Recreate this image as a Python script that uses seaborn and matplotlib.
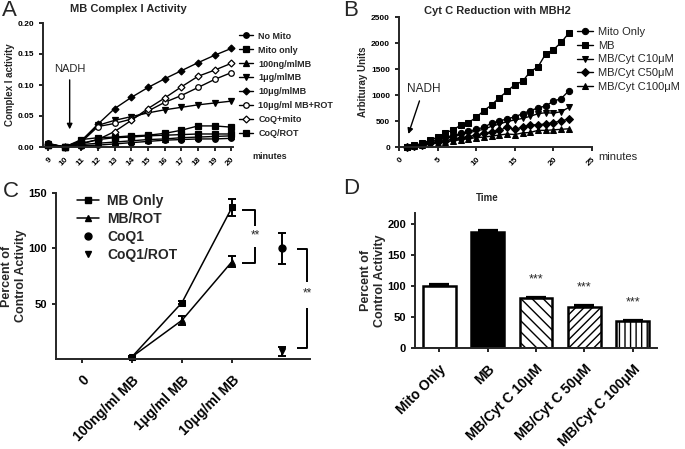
import seaborn as sns
import matplotlib.pyplot as plt
from matplotlib.lines import Line2D
import numpy as np

# ---- data: panel A (complex I activity vs minutes) ----
a_minutes = list(range(9, 21))
a_no_mito = [0.006, 0.000, 0.002, 0.003, 0.005, 0.007, 0.009, 0.011, 0.012, 0.013, 0.013, 0.014]
a_mito_only = [0.004, 0.000, 0.012, 0.015, 0.016, 0.018, 0.019, 0.022, 0.027, 0.034, 0.034, 0.032]
a_mb_100ng = [0.003, 0.000, 0.004, 0.006, 0.008, 0.010, 0.012, 0.013, 0.015, 0.016, 0.017, 0.018]
a_mb_1ug = [0.005, 0.000, 0.010, 0.035, 0.043, 0.049, 0.055, 0.060, 0.064, 0.068, 0.071, 0.074]
a_mb_10ug = [0.005, 0.000, 0.010, 0.037, 0.062, 0.080, 0.096, 0.110, 0.123, 0.136, 0.148, 0.159]
a_mb_10ug_rot = [0.005, 0.000, 0.008, 0.033, 0.038, 0.045, 0.058, 0.072, 0.083, 0.096, 0.109, 0.120]
a_coq_mito = [0.003, 0.000, 0.005, 0.012, 0.025, 0.043, 0.062, 0.079, 0.097, 0.114, 0.124, 0.135]
a_coq_rot = [0.004, 0.000, 0.006, 0.012, 0.015, 0.016, 0.018, 0.019, 0.020, 0.021, 0.021, 0.021]
a_labels = ['No Mito', 'Mito only', '100ng/mlMB', '1\u03bcg/mlMB', '10\u03bcg/mlMB',
            '10\u03bcg/ml MB+ROT', 'CoQ+mito', 'CoQ/ROT']

# ---- data: panel B (cyt c reduction) ----
b_minutes = list(range(1, 23))
b_mito_only = [0, 25, 55, 100, 150, 190, 220, 260, 300, 340, 380, 460, 500, 540, 580, 640, 700, 750, 790, 880, 930, 1080]
b_mb = [0, 30, 70, 130, 190, 270, 330, 420, 470, 570, 700, 810, 950, 1070, 1200, 1260, 1450, 1540, 1790, 1870, 2010, 2190]
b_cyt10 = [0, 20, 50, 90, 130, 170, 190, 240, 270, 310, 340, 400, 440, 490, 520, 550, 590, 640, 660, 650, 680, 760]
b_cyt50 = [0, 15, 40, 70, 100, 120, 150, 180, 200, 230, 260, 290, 320, 380, 340, 380, 420, 430, 440, 470, 500, 540]
b_cyt100 = [0, 10, 30, 55, 80, 100, 120, 140, 160, 180, 190, 210, 230, 250, 240, 270, 280, 320, 320, 330, 340, 350]
b_labels = ['Mito Only', 'MB', 'MB/Cyt C10\u03bcM', 'MB/Cyt C50\u03bcM', 'MB/Cyt C100\u03bcM']

# ---- data: panel C (percent of control) ----
c_ticks = ['0', '100ng/ml MB', '1\u03bcg/ml MB', '10\u03bcg/ml MB']
c_mb_pos = [1, 2, 3]
c_mb_only = [2, 51, 137]
c_mb_only_err = [1, 1, 8]
c_mb_rot = [2, 35, 88]
c_mb_rot_err = [1, 4, 5]
c_coq_pos = [4]
c_coq1 = [100]
c_coq1_err = [14]
c_coq1_rot = [7]
c_coq1_rot_err = [4]

# ---- data: panel D (bars) ----
d_labels = ['Mito Only', 'MB', 'MB/Cyt C 10\u03bcM', 'MB/Cyt C 50\u03bcM', 'MB/Cyt C 100\u03bcM']
d_values = [100, 187, 80, 67, 43]
d_err = [4, 3, 3, 3, 3]
d_stars = ['', '', '***', '***', '***']

sns.set_style('ticks')
plt.rcParams['font.family'] = ['Liberation Sans', 'DejaVu Sans']
plt.rcParams['axes.linewidth'] = 1.4
plt.rcParams['xtick.major.width'] = 1.2
plt.rcParams['ytick.major.width'] = 1.2
plt.rcParams['xtick.major.size'] = 3
plt.rcParams['ytick.major.size'] = 3
plt.rcParams['hatch.linewidth'] = 1.0

fig = plt.figure(figsize=(6.85, 4.49), dpi=100)
W, H = 685.0, 449.0

def px_axes(l, t, r, b):
    return fig.add_axes([l / W, 1 - b / H, (r - l) / W, (b - t) / H])

axA = px_axes(43, 23, 233, 147)
axB = px_axes(399, 17, 592, 147)
axC = px_axes(56, 193, 310, 359)
axD = px_axes(415, 213, 657, 348)

for ax in (axA, axB, axC, axD):
    sns.despine(ax=ax)
    ax.tick_params(direction='out', colors='black')


def rotate_labels(ax):
    for lbl in ax.get_xticklabels():
        lbl.set_rotation(45)
        lbl.set_ha('right')
        lbl.set_rotation_mode('anchor')
    for lbl in ax.get_xticklabels() + ax.get_yticklabels():
        lbl.set_fontweight('bold')


# ---------- Panel A ----------
a_data = [a_no_mito, a_mito_only, a_mb_100ng, a_mb_1ug, a_mb_10ug, a_mb_10ug_rot, a_coq_mito, a_coq_rot]
a_markers = ['o', 's', '^', 'v', 'D', 'o', 'D', 's']
a_open = [False, False, False, False, False, True, True, False]
for vals, lab, mk, op in zip(a_data, a_labels, a_markers, a_open):
    sns.lineplot(x=a_minutes, y=vals, ax=axA, color='black', lw=1.0, marker=mk,
                 markersize=4 if mk != 'D' else 3.5, markerfacecolor='white' if op else 'black',
                 markeredgecolor='black', markeredgewidth=0.9, label=lab, clip_on=False)
axA.set_xlim(8.7, 20.1)
axA.set_ylim(0, 0.2)
axA.set_xticks(a_minutes)
axA.set_yticks([0, 0.05, 0.10, 0.15, 0.20])
axA.set_yticklabels(['0.00', '0.05', '0.10', '0.15', '0.20'])
axA.tick_params(labelsize=6)
rotate_labels(axA)
axA.set_ylabel('Complex I activity', fontsize=7, fontweight='bold', labelpad=2)
axA.set_xlabel('')
axA.set_title('MB Complex I Activity', fontsize=8, fontweight='bold', x=0.447, y=1.02)
axA.annotate('NADH', xy=(10.3, 0.024), xytext=(10.3, 0.118), ha='center', va='bottom', fontsize=8,
             arrowprops=dict(arrowstyle='-|>', color='black', lw=1.0, mutation_scale=8))
axA.text(1.1, -0.08, 'minutes', transform=axA.transAxes, fontsize=6.5, fontweight='bold', va='center')
axA.legend(loc='upper left', bbox_to_anchor=(1.01, 0.96), frameon=False,
           prop={'weight': 'bold', 'size': 6.5}, handlelength=1.6, labelspacing=0.55,
           handletextpad=0.6, borderaxespad=0)

# ---------- Panel B ----------
b_data = [b_mito_only, b_mb, b_cyt10, b_cyt50, b_cyt100]
b_markers = ['o', 's', 'v', 'D', '^']
for vals, lab, mk in zip(b_data, b_labels, b_markers):
    sns.lineplot(x=b_minutes, y=vals, ax=axB, color='black', lw=1.0, marker=mk,
                 markersize=4.5 if mk != 'D' else 4, markerfacecolor='black',
                 markeredgecolor='black', label=lab, clip_on=False)
axB.set_xlim(0, 25)
axB.set_ylim(0, 2500)
axB.set_xticks(range(0, 26, 5))
axB.set_yticks(range(0, 2501, 500))
axB.tick_params(labelsize=6)
rotate_labels(axB)
axB.set_ylabel('Arbituray Units', fontsize=7, fontweight='bold', labelpad=2)
axB.set_xlabel('')
axB.set_title('Cyt C Reduction with MBH2', fontsize=8, fontweight='bold', x=0.51, y=0.96)
axB.annotate('NADH', xy=(1.1, 200), xytext=(1.0, 1000), ha='left', va='bottom', fontsize=8.5,
             arrowprops=dict(arrowstyle='-|>', color='black', lw=1.0, mutation_scale=8))
axB.text(1.03, -0.075, 'minutes', transform=axB.transAxes, fontsize=8, va='center')
axB.legend(loc='upper left', bbox_to_anchor=(0.9, 0.96), frameon=False, fontsize=8,
           handlelength=1.4, labelspacing=0.35, handletextpad=0.5, borderaxespad=0)

# ---------- Panel C ----------
sns.lineplot(x=c_mb_pos, y=c_mb_only, ax=axC, color='black', lw=1.1, marker='s', markersize=5,
             markeredgecolor='black', clip_on=False)
sns.lineplot(x=c_mb_pos, y=c_mb_rot, ax=axC, color='black', lw=1.1, marker='^', markersize=5,
             markeredgecolor='black', clip_on=False)
err_kw = dict(ecolor='black', color='black', elinewidth=1.4, capsize=3, capthick=1.4,
              markersize=5, clip_on=False)
axC.errorbar(c_mb_pos, c_mb_only, yerr=c_mb_only_err, fmt='none', **err_kw)
axC.errorbar(c_mb_pos, c_mb_rot, yerr=c_mb_rot_err, fmt='none', **err_kw)
axC.errorbar(c_coq_pos, c_coq1, yerr=c_coq1_err, fmt='o', **err_kw)
axC.errorbar(c_coq_pos, c_coq1_rot, yerr=c_coq1_rot_err, fmt='v', **err_kw)
axC.set_xlim(-0.52, 4.56)
axC.set_ylim(0, 150)
axC.set_yticks([50, 100, 150])
axC.set_xticks(range(len(c_ticks)))
axC.set_xticklabels(c_ticks)
axC.tick_params(axis='x', pad=7, labelsize=10)
axC.tick_params(axis='y', labelsize=8)
rotate_labels(axC)
axC.set_ylabel('Percent of\nControl Activity', fontsize=9, fontweight='bold', labelpad=1)


def bracket(ax, x0, x1, ytop, ybot, gap_lo, gap_hi, ymid):
    kw = dict(color='black', lw=1.4, clip_on=False, solid_capstyle='butt')
    ax.plot([x0, x1, x1], [ytop, ytop, gap_hi], **kw)
    ax.plot([x1, x1, x0], [gap_lo, ybot, ybot], **kw)
    ax.text(x1, ymid, '**', ha='center', va='center', fontsize=8.5)


bracket(axC, 3.2, 3.46, c_mb_only[-1] - 2, c_mb_rot[-1] - 1, 101, 120, 112)
bracket(axC, 4.3, 4.5, c_coq1[0] - 1, c_coq1_rot[0] + 3, 46, 70, 59)

c_handles = [Line2D([], [], color='black', lw=1.1, marker='s', markersize=5),
             Line2D([], [], color='black', lw=1.1, marker='^', markersize=5),
             Line2D([], [], color='black', lw=0, marker='o', markersize=5),
             Line2D([], [], color='black', lw=0, marker='v', markersize=5)]
axC.legend(c_handles, ['MB Only', 'MB/ROT', 'CoQ1', 'CoQ1/ROT'], loc='upper left',
           bbox_to_anchor=(0.06, 1.03), frameon=False, prop={'weight': 'bold', 'size': 10},
           handlelength=1.6, labelspacing=0.3, handletextpad=0.6, borderaxespad=0)

# ---------- Panel D ----------
sns.barplot(x=d_labels, y=d_values, ax=axD, color='white', edgecolor='black', linewidth=1.8,
            width=0.68, errorbar=None)
d_faces = ['white', 'black', 'white', 'white', 'white']
d_hatches = [None, None, '\\\\\\', '////', '|||']
for patch, fc, hat in zip(axD.patches, d_faces, d_hatches):
    patch.set_facecolor(fc)
    if hat:
        patch.set_hatch(hat)
xs = np.arange(len(d_values))
axD.errorbar(xs, d_values, yerr=[np.zeros(len(d_err)), d_err], fmt='none', ecolor='black',
             elinewidth=1.6, capsize=7, capthick=1.6)
for x, v, e, s in zip(xs, d_values, d_err, d_stars):
    if s:
        axD.text(x, v + e + 27, s, ha='center', va='center', fontsize=9)
axD.set_xlim(-0.5, 4.5)
axD.set_ylim(0, 218)
axD.set_yticks(range(0, 201, 50))
axD.tick_params(axis='x', pad=7, labelsize=10)
axD.tick_params(axis='y', labelsize=8)
rotate_labels(axD)
axD.set_ylabel('Percent of\nControl Activity', fontsize=9, fontweight='bold', labelpad=1)
axD.set_title('Time', fontsize=7, fontweight='bold', x=0.3, y=1.03)

# panel letters
for txt, x, y in [('A', 2, 0), ('B', 343, 0), ('C', 3, 181), ('D', 343, 178)]:
    fig.text(x / W, 1 - y / H, txt, fontsize=16, va='top', ha='left')

fig.savefig('out.png', dpi=100)
